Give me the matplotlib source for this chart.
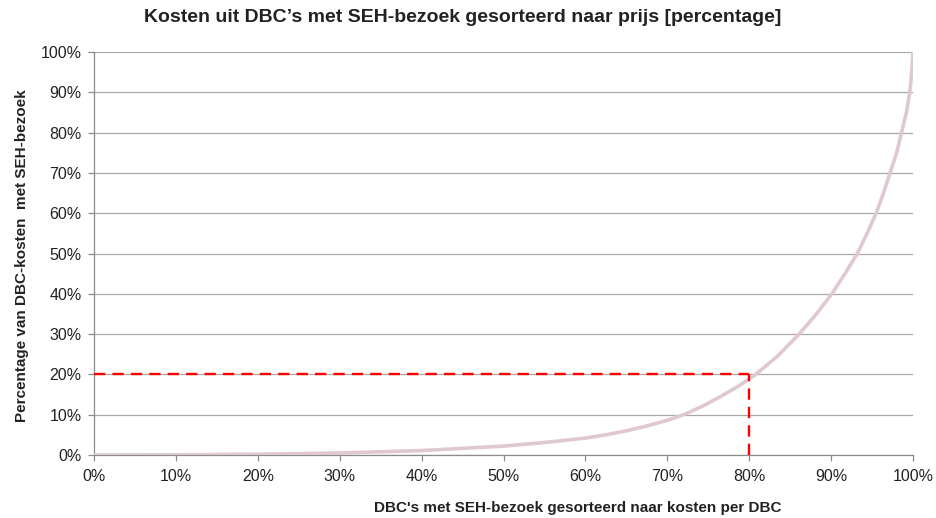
import matplotlib
matplotlib.use("Agg")
import matplotlib.pyplot as plt
from matplotlib.ticker import FuncFormatter, MultipleLocator

# Data (cumulative share, %)
dbc_share = [0, 10, 20, 30, 40, 50, 55, 60, 62.5, 65, 67.5, 70, 72, 74.2, 76.4, 78.7, 80.8, 83.5,
             86.1, 88.2, 90.1, 91.7, 93.2, 94.4, 95.5, 96.4, 97.2, 98.0, 98.6,
             99.2, 99.6, 99.85, 100]
cost_share = [0, 0.05, 0.2, 0.5, 1.1, 2.2, 3.1, 4.2, 5.0, 6.0, 7.2, 8.6, 10, 12.0, 14.4, 17.1, 20, 24.6,
              30, 35, 40, 45, 50, 55, 60, 65, 70, 75, 80,
              85, 90, 95, 100]
marker_x = 80
marker_y = 20

title = "Kosten uit DBC\u2019s met SEH-bezoek gesorteerd naar prijs [percentage]"
xlabel = "DBC's met SEH-bezoek gesorteerd naar kosten per DBC"
ylabel = "Percentage van DBC-kosten  met SEH-bezoek"

plt.rcParams['font.family'] = ['Liberation Sans', 'DejaVu Sans']

fig = plt.figure(figsize=(9.37, 5.18), dpi=100)
ax = fig.add_axes([94/937, 1-455/518, (913-94)/937, (455-52)/518])

ax.plot(dbc_share, cost_share, color='#E0C8D0', lw=2.6, solid_capstyle='round',
        solid_joinstyle='round', zorder=3)
ax.plot([0, marker_x], [marker_y, marker_y], color='#FF0000', lw=1.7,
        dashes=(4.8, 3), zorder=4)
ax.plot([marker_x, marker_x], [0, marker_y], color='#FF0000', lw=1.7,
        dashes=(4.8, 3), zorder=4)

ax.set_xlim(0, 100)
ax.set_ylim(0, 100)
ax.xaxis.set_major_locator(MultipleLocator(10))
ax.yaxis.set_major_locator(MultipleLocator(10))
fmt = FuncFormatter(lambda v, p: f"{int(round(v))}%")
ax.xaxis.set_major_formatter(fmt)
ax.yaxis.set_major_formatter(fmt)

ax.grid(axis='y', color='#A8A8A8', lw=0.9, zorder=1)
ax.set_axisbelow(True)
for s in ['top', 'right']:
    ax.spines[s].set_visible(False)
for s in ['left', 'bottom']:
    ax.spines[s].set_color('#8C8C8C')
    ax.spines[s].set_linewidth(0.9)
ax.tick_params(axis='both', direction='out', length=4, width=0.9, color='#8C8C8C',
               labelsize=11.5, labelcolor='#222222')
ax.tick_params(axis='x', pad=6)
ax.tick_params(axis='y', pad=5)

fig.text(463/937, 1-18/518, title, ha='center', va='center', fontsize=14,
         fontweight='bold', color='#222222')
fig.text(578/937, 1-508/518, xlabel, ha='center', va='center', fontsize=11,
         fontweight='bold', color='#222222')
fig.text(22/937, 1-256/518, ylabel, ha='center', va='center', fontsize=11,
         fontweight='bold', rotation=90, color='#222222')

fig.savefig('out.png', dpi=100)
